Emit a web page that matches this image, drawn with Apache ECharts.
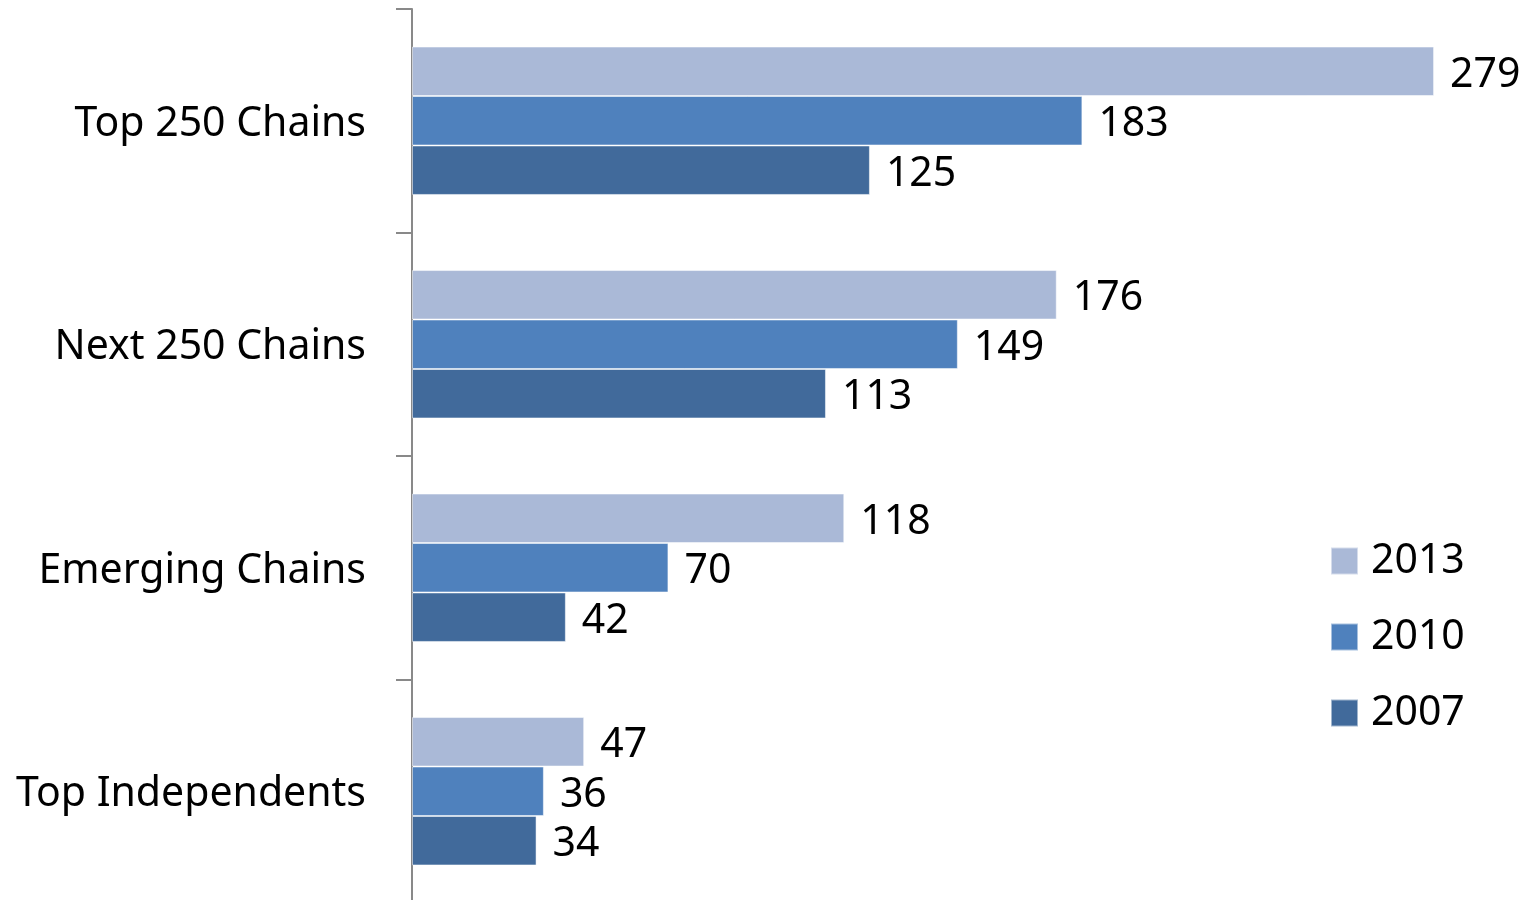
<!DOCTYPE html>
<html><head><meta charset="utf-8">
<script src="https://cdn.jsdelivr.net/npm/echarts@6/dist/echarts.min.js"></script>
<style>html,body{margin:0;padding:0;background:#fff}#c{width:1528px;height:900px}</style>
</head><body><div id="c"></div>
<script>
const categories = ['Top 250 Chains', 'Next 250 Chains', 'Emerging Chains', 'Top Independents'];
const seriesNames = ['2013', '2010', '2007'];
const values2013 = [279, 176, 118, 47];
const values2010 = [183, 149, 70, 36];
const values2007 = [125, 113, 42, 34];
const colors = ['#AAB9D7', '#4F81BD', '#416A9B'];
const FONT = '"Noto Sans", sans-serif';

const allValues = [values2013, values2010, values2007];
const chart = echarts.init(document.getElementById('c'), null, {renderer: 'canvas'});
chart.setOption({
  animation: false,
  backgroundColor: '#ffffff',
  textStyle: {fontFamily: FONT},
  grid: {left: 412, top: 9, width: 1099, height: 894, containLabel: false, outerBoundsMode: 'none'},
  legend: {
    orient: 'vertical', left: 1330, top: 539, padding: 0,
    data: seriesNames, icon: 'rect', itemWidth: 27, itemHeight: 27, itemGap: 32,
    textStyle: {fontFamily: FONT, fontSize: 41, color: '#000', lineHeight: 42, padding: [2, 0, 0, 8]}
  },
  xAxis: {type: 'value', min: 0, max: 300, show: false, splitLine: {show: false}},
  yAxis: {
    type: 'category', data: categories, inverse: true,
    axisLine: {show: true, lineStyle: {color: '#898989', width: 2}},
    axisTick: {show: true, length: 16, lineStyle: {color: '#898989', width: 2}},
    axisLabel: {
      margin: 46,
      formatter: v => '{a|' + v + '}',
      rich: {a: {fontFamily: FONT, fontSize: 41, color: '#000', padding: [7, 0, 0, 0]}}
    }
  },
  series: seriesNames.map((n, i) => ({
    name: n, type: 'bar', data: allValues[i],
    barGap: '0%', barCategoryGap: '33.6%',
    itemStyle: {color: colors[i], borderColor: 'rgba(255,255,255,0.5)', borderWidth: 1},
    label: {show: true, position: 'right', distance: 16, offset: [0, 4], fontFamily: FONT, fontSize: 41, color: '#000'}
  }))
});
</script></body></html>
